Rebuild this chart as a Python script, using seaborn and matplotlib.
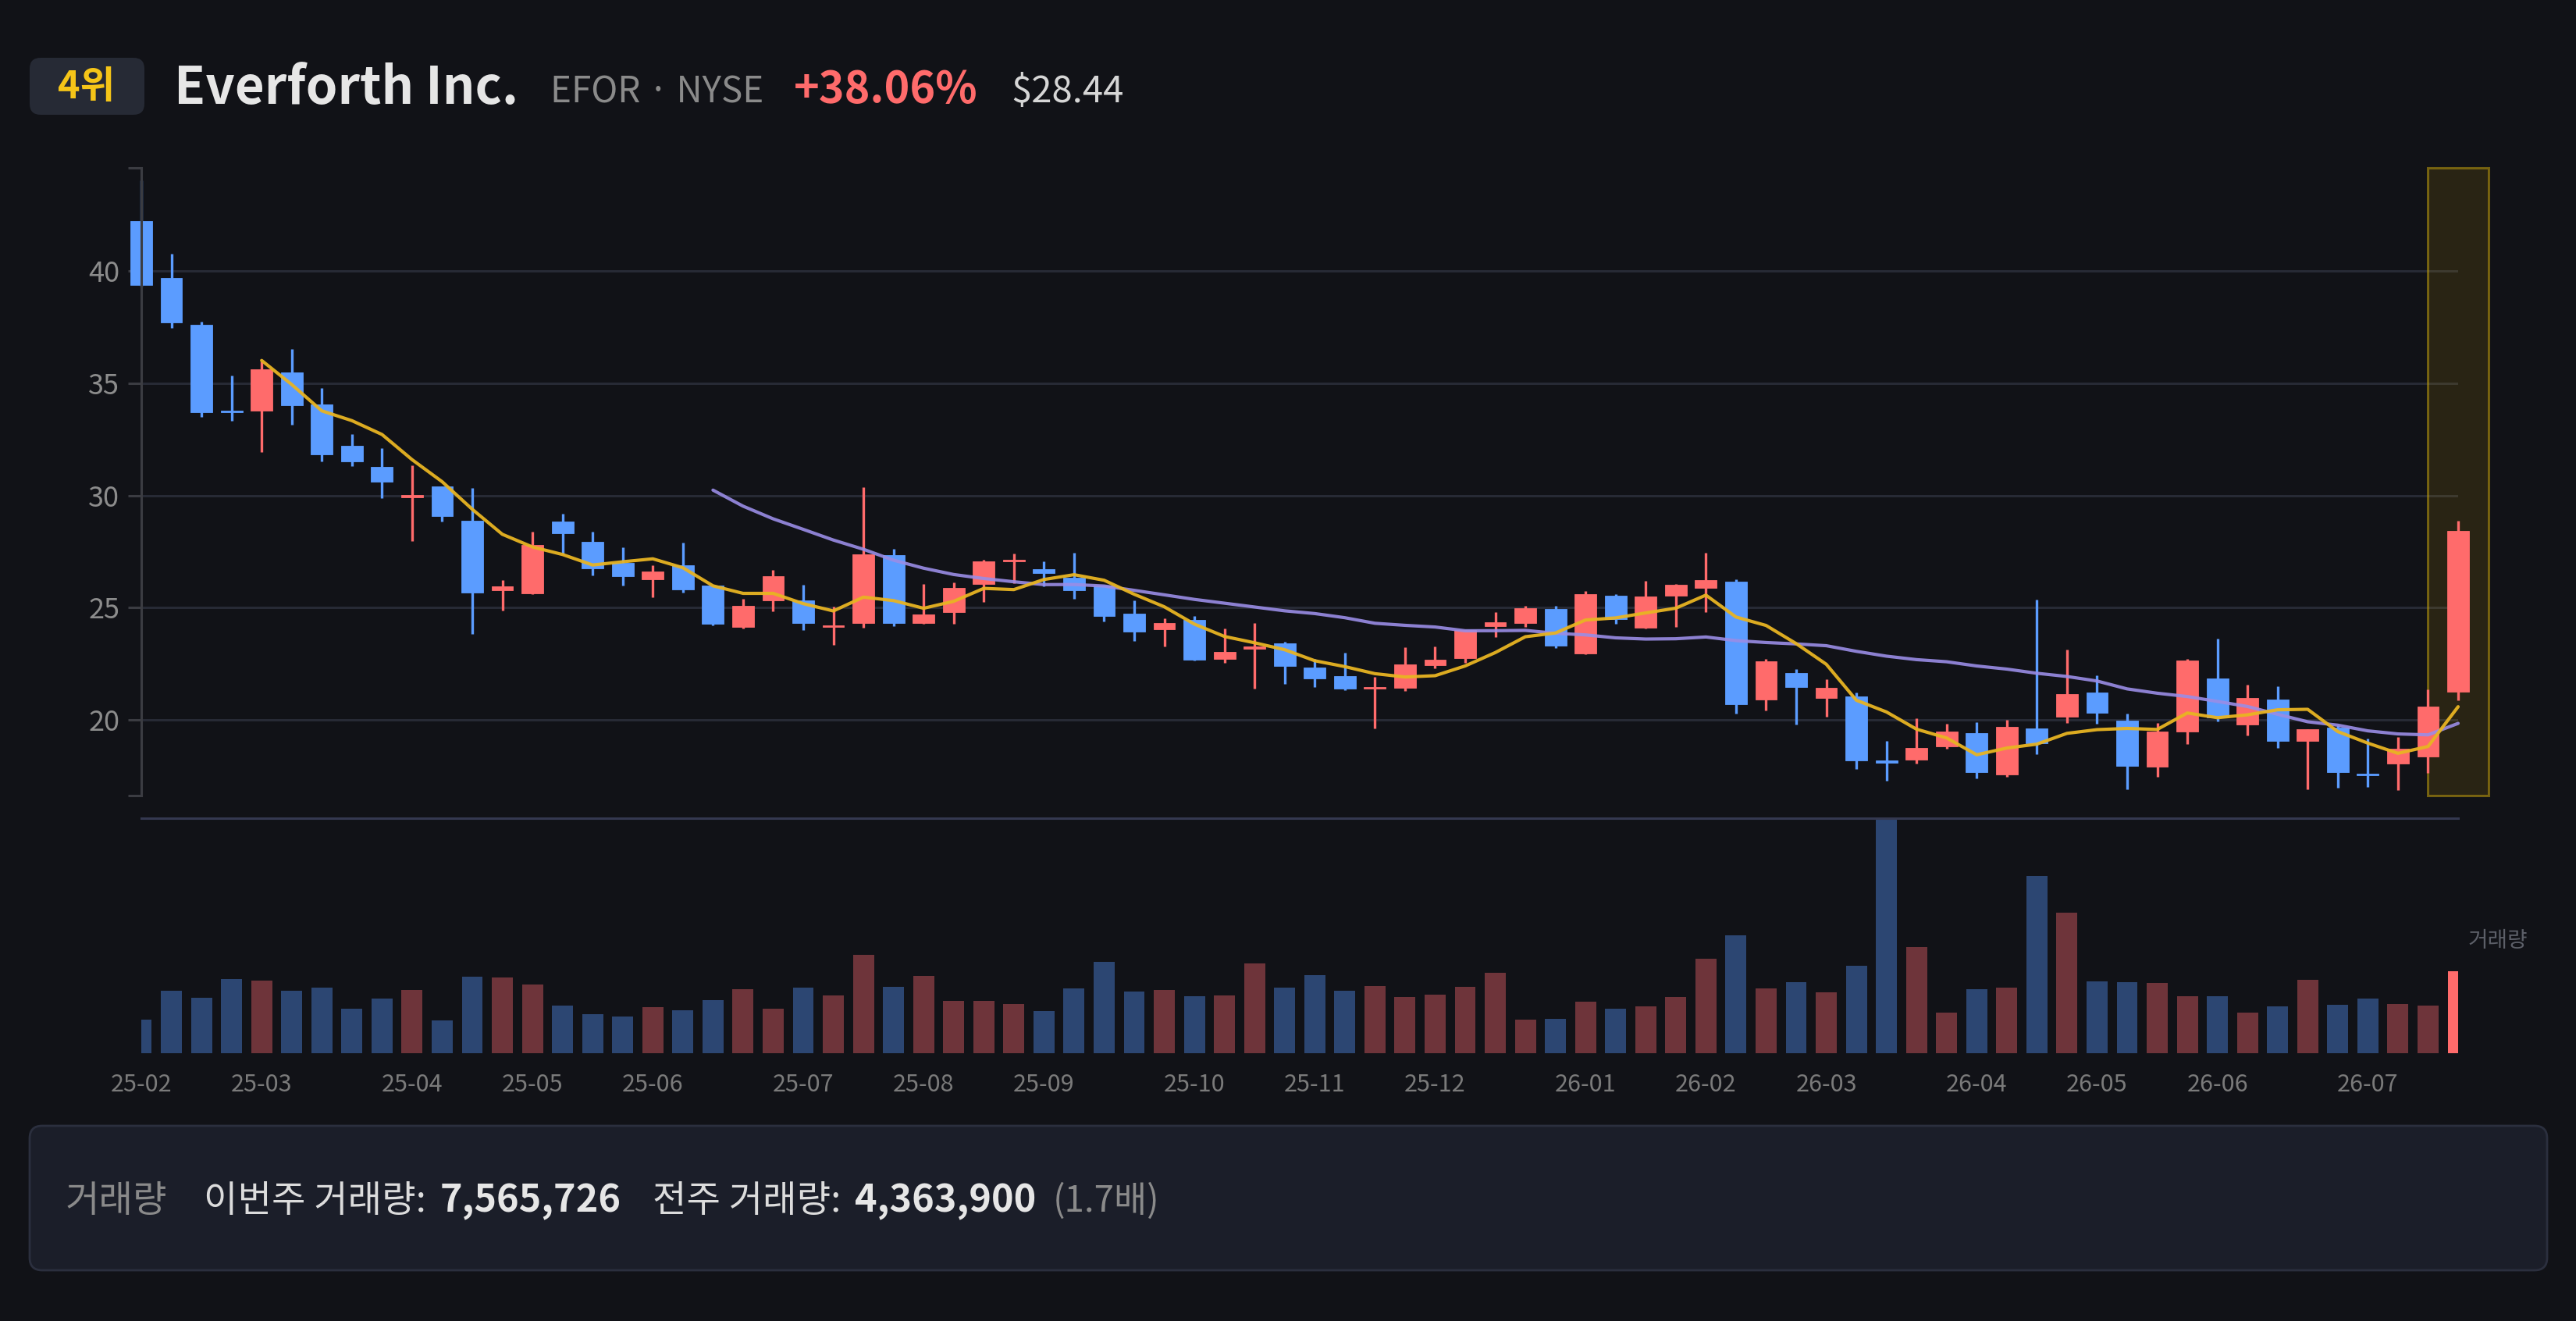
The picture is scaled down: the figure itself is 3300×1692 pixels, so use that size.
import numpy as np
import pandas as pd
import matplotlib
matplotlib.use("Agg")
import matplotlib.pyplot as plt
import seaborn as sns
from matplotlib.patches import FancyBboxPatch, Rectangle

# weekly candles (oldest first)
opens = [42.24, 39.69, 37.62, 33.75, 33.78, 35.48, 34.05, 32.22, 31.27, 29.93,
         30.41, 28.87, 25.77, 25.63, 28.83, 27.95, 27.00, 26.26, 26.88, 25.98,
         24.13, 25.33, 25.34, 24.13, 24.33, 27.33, 24.32, 24.79, 26.05, 27.05,
         26.73, 26.35, 26.00, 24.74, 24.04, 24.47, 22.71, 23.18, 23.42, 22.32,
         21.97, 21.38, 21.43, 22.43, 22.75, 24.19, 24.32, 24.96, 22.95, 25.52,
         24.10, 25.52, 25.90, 26.15, 20.92, 22.09, 20.99, 21.06, 18.16, 18.22,
         18.83, 19.42, 17.56, 19.62, 20.16, 21.23, 19.98, 17.93, 19.49, 21.85,
         19.81, 20.92, 19.07, 19.64, 17.56, 18.07, 18.38, 21.24]
highs = [44.05, 40.78, 37.76, 35.36, 35.96, 36.53, 34.80, 32.75, 32.12, 31.36,
         30.41, 30.35, 26.22, 28.40, 29.18, 28.40, 27.68, 26.90, 27.91, 25.98,
         25.40, 26.69, 26.01, 25.04, 30.37, 27.64, 26.05, 26.12, 27.13, 27.40,
         27.07, 27.44, 26.00, 25.33, 24.52, 24.63, 24.08, 24.33, 23.48, 22.72,
         23.01, 21.92, 23.23, 23.26, 24.02, 24.80, 25.09, 25.09, 25.76, 25.59,
         26.19, 26.05, 27.46, 26.25, 22.71, 22.28, 21.81, 21.21, 19.06, 20.07,
         19.84, 19.89, 19.99, 25.36, 23.12, 21.98, 20.27, 19.85, 22.73, 23.62,
         21.58, 21.50, 19.58, 19.75, 19.17, 19.23, 21.35, 28.86]
lows = [39.30, 37.47, 33.49, 33.33, 31.93, 33.14, 31.52, 31.31, 29.88, 27.97,
        28.85, 23.82, 24.89, 25.60, 27.39, 26.45, 26.00, 25.48, 25.69, 24.21,
        24.06, 24.83, 24.00, 23.33, 24.10, 24.19, 24.30, 24.29, 25.27, 26.08,
        25.97, 25.38, 24.40, 23.52, 23.27, 22.65, 22.56, 21.39, 21.62, 21.45,
        21.31, 19.62, 21.29, 22.31, 22.54, 23.70, 24.13, 23.21, 22.93, 24.28,
        24.08, 24.13, 24.80, 20.29, 20.43, 19.79, 20.13, 17.82, 17.30, 18.05,
        18.71, 17.39, 17.45, 18.49, 19.87, 19.82, 16.90, 17.45, 18.94, 19.92,
        19.32, 18.74, 16.90, 16.98, 17.00, 16.88, 17.64, 20.87]
closes = [39.38, 37.70, 33.70, 33.70, 35.61, 34.02, 31.83, 31.52, 30.62, 30.00,
          29.10, 25.69, 25.95, 27.80, 28.32, 26.76, 26.41, 26.61, 25.81, 24.29,
          25.08, 26.41, 24.32, 24.18, 27.37, 24.31, 24.70, 25.87, 27.06, 27.10,
          26.56, 25.77, 24.63, 23.94, 24.31, 22.70, 23.02, 23.22, 22.40, 21.85,
          21.39, 21.45, 22.48, 22.69, 24.02, 24.37, 24.98, 23.31, 25.59, 24.48,
          25.49, 26.03, 26.22, 20.71, 22.60, 21.45, 21.43, 18.20, 18.10, 18.76,
          19.50, 17.68, 19.70, 18.97, 21.16, 20.33, 17.95, 19.47, 22.64, 20.10,
          20.98, 19.07, 19.58, 17.68, 17.52, 18.71, 20.60, 28.44]
# weekly volume, millions of shares
volumes_m = [3.07, 5.76, 5.12, 6.80, 6.65, 5.76, 6.00, 4.11, 5.04, 5.81,
             3.03, 7.01, 6.97, 6.34, 4.37, 3.60, 3.36, 4.25, 3.94, 4.92,
             5.91, 4.06, 6.03, 5.28, 9.05, 6.10, 7.11, 4.83, 4.80, 4.49,
             3.91, 5.96, 8.41, 5.64, 5.81, 5.21, 5.28, 8.26, 6.05, 7.21,
             5.72, 6.17, 5.19, 5.40, 6.10, 7.40, 3.07, 3.15, 4.73, 4.13,
             4.32, 5.19, 8.72, 10.88, 5.96, 6.56, 5.60, 8.05, 21.62, 9.75,
             3.72, 5.88, 6.00, 16.33, 12.92, 6.60, 6.51, 6.44, 5.24, 5.21,
             3.77, 4.30, 6.73, 4.44, 5.00, 4.52, 4.3639, 7.565726]
first_week = "2025-02-03"
price_ticks = [20, 25, 30, 35, 40]

BG = "#111217"
UP, DOWN = "#ff6b6b", "#5b9cff"
UP_DIM, DOWN_DIM = "#6e343a", "#2c4672"
GRID = "#272a35"
SPINE = "#3b3c42"

df = pd.DataFrame({"open": opens, "high": highs, "low": lows, "close": closes,
                   "vol": volumes_m})
df["date"] = pd.date_range(first_week, periods=len(df), freq="W-MON")
df["x"] = np.arange(len(df))
df["ma5"] = df["close"].rolling(5).mean()
df["ma20"] = df["close"].rolling(20).mean()
df["up"] = df["close"] >= df["open"]
df["kind"] = np.where(df["up"], "up", "down")
df.loc[df.index[-1], "kind"] = "last"
n = len(df)

sns.set_theme(style="dark", rc={"axes.facecolor": "none", "figure.facecolor": BG})
plt.rcParams["font.family"] = ["Noto Sans CJK KR", "DejaVu Sans"]

W, H = 3300, 1692
fig = plt.figure(figsize=(W / 100, H / 100), dpi=100, facecolor=BG)

# overlay in pixel coordinates for header / footer
ov = fig.add_axes([0, 0, 1, 1])
ov.set_xlim(0, W)
ov.set_ylim(H, 0)
ov.axis("off")

ax = fig.add_axes([181 / W, 1 - 1019 / H, (3149 - 181) / W, (1019 - 215) / H])
vax = fig.add_axes([181 / W, 1 - 1349 / H, (3149 - 181) / W, (1349 - 1048) / H])

ylo, yhi = 16.63, 44.6
ax.set_xlim(0, n - 1)
ax.set_ylim(ylo, yhi)

# highlight box on the last week
hl = Rectangle((n - 2, ylo), 2, yhi - ylo, facecolor=(1.0, 0.8, 0.0, 0.1),
               edgecolor=(0.75, 0.62, 0.05, 0.55), lw=2.2, clip_on=False, zorder=1)
ax.add_patch(hl)

colors = np.where(df["up"], UP, DOWN)
wicks = ax.vlines(df["x"], df["low"], df["high"], colors=colors, lw=2.4, zorder=3)
wicks.set_clip_on(False)
body_lo = np.minimum(df["open"], df["close"])
body_h = np.maximum(np.abs(df["close"] - df["open"]), 0.09)
bodies = ax.bar(df["x"], body_h, bottom=body_lo, width=0.72, color=colors,
                edgecolor=colors, lw=0.6, zorder=4)
for p in bodies:
    p.set_clip_on(False)

sns.lineplot(x=df["x"], y=df["ma20"], ax=ax, color="#9a8de6", lw=3.0,
             alpha=0.9, estimator=None, sort=False, zorder=5)
sns.lineplot(x=df["x"], y=df["ma5"], ax=ax, color="#e8b422", lw=3.0,
             alpha=0.95, estimator=None, sort=False, zorder=6)
for ln in ax.lines:
    ln.set_clip_on(False)

ax.set_yticks(price_ticks)
ax.set_yticklabels([str(t) for t in price_ticks])
ax.set_yticks([ylo, yhi], minor=True)
ax.set_xticks([])
ax.set_xlabel("")
ax.set_ylabel("")
ax.grid(axis="y", which="major", color=GRID, lw=2.2)
ax.grid(axis="x", visible=False)
ax.tick_params(axis="y", which="both", length=12, width=2.2, color=SPINE,
               labelcolor="#8c8c8c", labelsize=26, pad=8, left=True)
for s in ["top", "right", "bottom"]:
    ax.spines[s].set_visible(False)
ax.spines["left"].set_visible(True)
ax.spines["left"].set_color(SPINE)
ax.spines["left"].set_linewidth(2.2)
ax.spines["left"].set_zorder(10)

# volume
sns.barplot(x=df["x"], y=df["vol"], hue=df["kind"], ax=vax, native_scale=True,
            dodge=False, width=0.7, saturation=1, legend=False, linewidth=0,
            edgecolor="none", palette={"up": UP_DIM, "down": DOWN_DIM, "last": UP})
vax.set_xlim(0, n - 1)
vax.set_ylim(0, df["vol"].max())
vax.set_yticks([])
vax.set_xlabel("")
vax.set_ylabel("")
month_start = df.index[(df["date"].dt.month != df["date"].shift().dt.month)]
vax.set_xticks(df.loc[month_start, "x"])
vax.set_xticklabels(df.loc[month_start, "date"].dt.strftime("%y-%m"))
vax.tick_params(axis="x", length=0, labelcolor="#7a7a7a", labelsize=22, pad=18)
vax.grid(False)
for s in ["left", "right", "bottom"]:
    vax.spines[s].set_visible(False)
vax.spines["top"].set_visible(True)
vax.spines["top"].set_color("#343850")
vax.spines["top"].set_linewidth(2.2)

ov.text(3200, 1205, "거래량", color="#5c5f68", fontsize=20, ha="center", va="center")

# header
ov.add_patch(FancyBboxPatch((38, 74), 147, 73, boxstyle="round,pad=0,rounding_size=14",
                            facecolor="#262a35", edgecolor="none"))
ov.text(111, 111, "4위", color="#f5c518", fontsize=35, fontweight="bold",
        ha="center", va="center")
ov.text(223, 133, "Everforth Inc.", color="#e6e6e6", fontsize=47, fontweight="bold",
        va="baseline")
ov.text(705, 131, "EFOR · NYSE", color="#8a8a8a", fontsize=33, va="baseline")
ov.text(1017, 131, "+38.06%", color="#ff6b6b", fontsize=40, fontweight="bold",
        va="baseline")
ov.text(1295, 131, "$28.44", color="#d6d6d6", fontsize=34, va="baseline")

# footer box
ov.add_patch(FancyBboxPatch((38, 1442), 3225, 185, boxstyle="round,pad=0,rounding_size=16",
                            facecolor="#1b1e29", edgecolor="#2b2f3e", lw=2))
ov.text(84, 1552, "거래량", color="#8a8a8a", fontsize=34, va="baseline")
ov.text(261, 1552, "이번주 거래량:", color="#dcdcdc", fontsize=34, va="baseline")
ov.text(564, 1552, "7,565,726", color="#e6e6e6", fontsize=35, fontweight="bold",
        va="baseline")
ov.text(836, 1552, "전주 거래량:", color="#dcdcdc", fontsize=34, va="baseline")
ov.text(1095, 1552, "4,363,900", color="#e6e6e6", fontsize=35, fontweight="bold",
        va="baseline")
ov.text(1349, 1552, "(1.7배)", color="#8a8a8a", fontsize=33, va="baseline")

fig.savefig("out.png", dpi=100, facecolor=BG)
